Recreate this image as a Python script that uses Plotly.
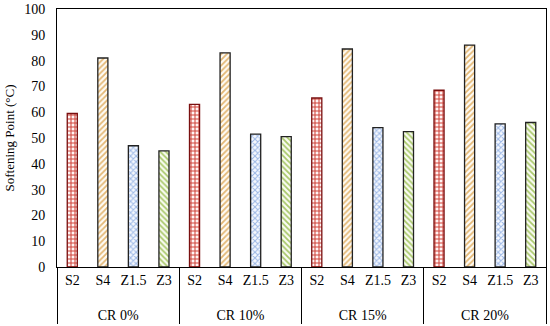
import plotly.graph_objects as go

groups = ["CR 0%", "CR 10%", "CR 15%", "CR 20%"]
binders = ["S2", "S4", "Z1.5", "Z3"]
values = {
    "S2":   [59.5, 63.0, 65.5, 68.5],
    "S4":   [81.0, 83.0, 84.5, 86.0],
    "Z1.5": [47.0, 51.5, 54.0, 55.5],
    "Z3":   [45.0, 50.5, 52.5, 56.0],
}

shapes = {"S2": "+", "S4": "/", "Z1.5": "x", "Z3": "\\"}
fg = {"S2": "#D0443A", "S4": "#E3B774", "Z1.5": "#9DB8E6", "Z3": "#A9C86A"}
bg = {"S2": "#FFF4F4", "S4": "#FFFCF6", "Z1.5": "#F5F8FE", "Z3": "#FAFCF3"}
edge = {"S2": "#7A1010", "S4": "#222222", "Z1.5": "#222222", "Z3": "#222222"}

fig = go.Figure()
for b in binders:
    fig.add_trace(go.Bar(
        x=[["<br>" + g for g in groups], [b] * len(groups)], y=values[b],
        name=b,
        marker=dict(
            color=bg[b],
            line=dict(color=edge[b], width=1.3),
            pattern=dict(shape=shapes[b], fgcolor=fg[b], bgcolor=bg[b],
                         size=4, solidity=0.45, fillmode="replace"),
        ),
        width=0.33,
        hoverinfo="skip",
    ))

font = "Liberation Serif, Times New Roman, serif"
fig.update_layout(
    width=550, height=326,
    margin=dict(l=57, r=4, t=9, b=59),
    plot_bgcolor="white", paper_bgcolor="white",
    font=dict(family=font, size=13, color="black"),
    showlegend=False, barmode="overlay",
)
fig.update_yaxes(range=[0, 100], dtick=10, showgrid=False, showline=True,
                 linecolor="black", linewidth=1, mirror=True,
                 ticks="outside", ticklen=8, tickcolor="rgba(0,0,0,0)",
                 title=dict(text="Softening Point (°C)", font=dict(size=13), standoff=6),
                 tickfont=dict(size=14), zeroline=False, automargin=False)
fig.update_xaxes(type="multicategory", showgrid=False, showline=True,
                 linecolor="black", linewidth=1, mirror=True, ticks="",
                 showdividers=True, dividercolor="black", dividerwidth=1,
                 tickfont=dict(size=14), tickangle=0, automargin=False)

fig.write_html("out.html", config={"displayModeBar": False},
               post_script="document.body.style.margin='0';document.body.style.overflow='hidden';")
